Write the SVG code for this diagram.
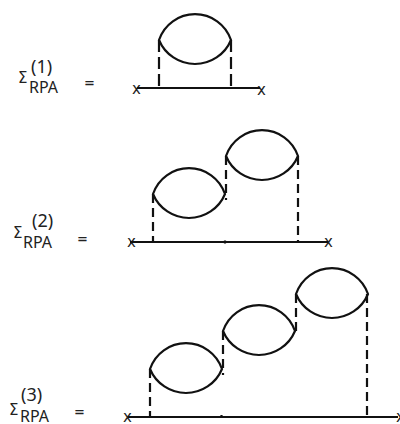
<svg xmlns="http://www.w3.org/2000/svg" width="400" height="424" viewBox="0 0 400 424">
<style>
.l{fill:none;stroke:#111;stroke-width:2.2}
.d{fill:none;stroke:#111;stroke-width:2.2;stroke-dasharray:12 5}
.e{fill:none;stroke:#111;stroke-width:2.2;stroke-dasharray:9 5}
.b{fill:none;stroke:#111;stroke-width:2.2}
.x{fill:#222;font-family:"DejaVu Sans",sans-serif;font-size:15px}
.s{fill:#222;font-family:"DejaVu Sans",sans-serif;font-size:15px}
.r{fill:#222;font-family:"Noto Sans",sans-serif;font-size:16px}
.t{fill:#222;font-family:"Noto Sans",sans-serif;font-size:18px}
.q{fill:#222;font-family:"DejaVu Sans",sans-serif;font-size:13px;font-weight:bold}
</style>
<defs>
<path id="lens" class="l" d="M0 0A38 38 0 0 1 72 0A39 39 0 0 1 0 0Z"/>
</defs>
<g id="label-1">
<text class="s" x="18" y="83">Σ</text><text class="t" x="31" y="73">(1)</text><text class="r" x="29" y="93">RPA</text><text class="q" x="84" y="87">=</text>
</g>
<g id="label-2">
<text class="s" x="13" y="238">Σ</text><text class="t" x="32" y="227">(2)</text><text class="r" x="23" y="248">RPA</text><text class="q" x="77" y="243">=</text>
</g>
<g id="label-3">
<text class="s" x="9" y="415">Σ</text><text class="t" x="21" y="401">(3)</text><text class="r" x="20" y="422">RPA</text><text class="q" x="74" y="416">=</text>
</g>
<g id="node-1">
<use href="#lens" x="159" y="40"/>
<text class="x" x="132" y="94">x</text><text class="x" x="257" y="95">x</text>
</g>
<g id="node-2">
<use href="#lens" x="153" y="194"/><use href="#lens" x="226" y="156"/>
<text class="x" x="127" y="247">x</text><text class="x" x="324" y="247">x</text>
</g>
<g id="node-3">
<use href="#lens" x="150" y="369"/><use href="#lens" x="223" y="331"/><use href="#lens" x="296" y="294"/>
<text class="x" x="123" y="422">x</text><text class="x" x="396" y="422">x</text>
</g>
<g id="connectors">
<path class="b" d="M137 88H260M130 242H328M128 417H398M225 240.5V243.5M221.5 415V418"/>
<path class="d" d="M159 40V88M231 40V88"/>
<path class="e" d="M153 194V242M226 156V200M298 156V242M150 369V417M223 331V375M296 294V332M367 294V417"/>
</g>
</svg>
